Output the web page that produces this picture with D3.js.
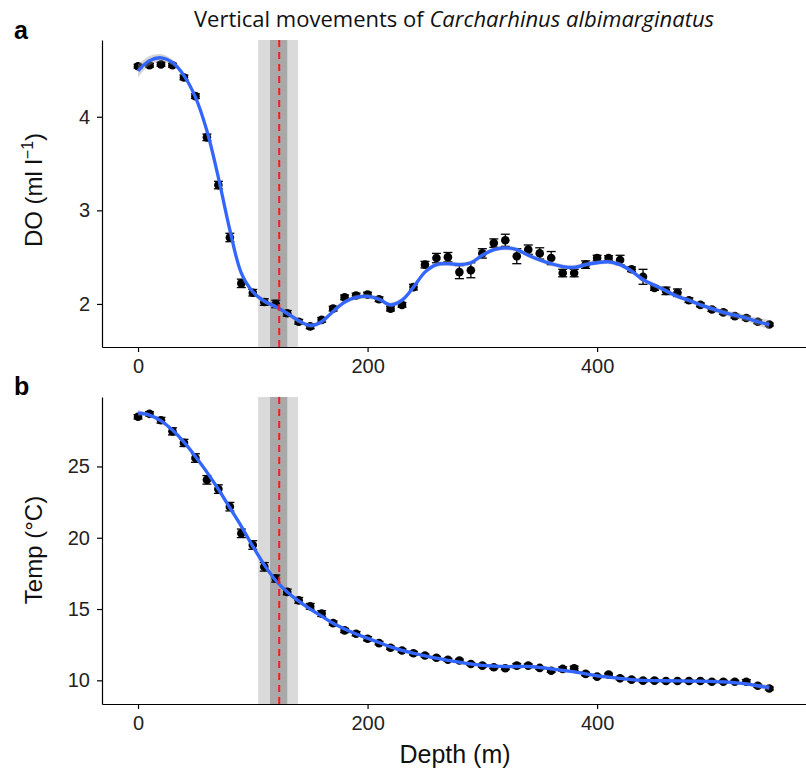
<!DOCTYPE html>
<html>
<head>
<meta charset="utf-8">
<script src="https://cdn.jsdelivr.net/npm/d3@7"></script>
<style>
  body { margin: 0; background: #fff; }
  svg { display: block; }
  .tick text { font-family: "Liberation Sans", Arial, sans-serif; font-size: 20px; fill: #222; }
  .domain, .tick line { stroke: #000; stroke-width: 1.2px; }
</style>
</head>
<body>
<svg width="806" height="775"></svg>
<script>
// depth bins (m)
var depths = [0, 10, 20, 30, 40, 50, 60, 70, 80, 90, 100, 110, 120, 130, 140, 150, 160, 170, 180, 190,
  200, 210, 220, 230, 240, 250, 260, 270, 280, 290, 300, 310, 320, 330, 340, 350, 360, 370, 380, 390,
  400, 410, 420, 430, 440, 450, 460, 470, 480, 490, 500, 510, 520, 530, 540, 550];

// dissolved oxygen, mean and SE per bin
var doMean = [4.54, 4.55, 4.56, 4.55, 4.42, 4.22, 3.78, 3.27, 2.71, 2.22, 2.12, 2.02, 2.00, 1.90, 1.81, 1.76, 1.83, 1.95, 2.07, 2.09,
  2.10, 2.05, 1.95, 1.99, 2.18, 2.42, 2.49, 2.50, 2.34, 2.36, 2.54, 2.65, 2.68, 2.51, 2.58, 2.54, 2.49, 2.33, 2.33, 2.42,
  2.49, 2.49, 2.47, 2.37, 2.29, 2.17, 2.14, 2.12, 2.04, 1.99, 1.94, 1.91, 1.87, 1.85, 1.81, 1.78];
var doSE = [0.02, 0.02, 0.02, 0.02, 0.025, 0.025, 0.035, 0.04, 0.045, 0.045, 0.035, 0.035, 0.04, 0.03, 0.025, 0.025, 0.025, 0.025, 0.025, 0.025,
  0.025, 0.025, 0.025, 0.025, 0.03, 0.035, 0.05, 0.05, 0.07, 0.08, 0.05, 0.045, 0.065, 0.08, 0.05, 0.06, 0.07, 0.04, 0.04, 0.04,
  0.03, 0.025, 0.05, 0.025, 0.08, 0.025, 0.04, 0.04, 0.025, 0.02, 0.02, 0.02, 0.02, 0.02, 0.02, 0.015];
// smoothed fit, with its ribbon half-width
var doFit = [4.49, 4.60, 4.63, 4.58, 4.44, 4.21, 3.85, 3.35, 2.79, 2.33, 2.13, 2.03, 1.97, 1.90, 1.82, 1.77, 1.81, 1.92, 2.02, 2.07,
  2.08, 2.05, 1.99, 2.04, 2.18, 2.34, 2.42, 2.43, 2.42, 2.44, 2.52, 2.58, 2.60, 2.58, 2.52, 2.47, 2.43, 2.40, 2.39, 2.42,
  2.44, 2.45, 2.42, 2.35, 2.26, 2.20, 2.14, 2.08, 2.04, 1.99, 1.95, 1.91, 1.88, 1.85, 1.81, 1.78];
var doFitSE = [0.07, 0.05, 0.04, 0.03, 0.025, 0.025, 0.025, 0.025, 0.025, 0.025, 0.025, 0.025, 0.025, 0.025, 0.025, 0.025, 0.025, 0.025, 0.025, 0.025,
  0.025, 0.025, 0.025, 0.025, 0.025, 0.025, 0.025, 0.025, 0.025, 0.025, 0.025, 0.025, 0.025, 0.025, 0.025, 0.025, 0.025, 0.025, 0.025, 0.025,
  0.025, 0.025, 0.025, 0.025, 0.025, 0.025, 0.025, 0.025, 0.025, 0.025, 0.025, 0.03, 0.03, 0.035, 0.04, 0.05];

// temperature, mean and SE per bin
var tempMean = [28.48, 28.69, 28.24, 27.46, 26.65, 25.59, 24.06, 23.41, 22.18, 20.31, 19.49, 17.96, 17.14, 16.20, 15.61, 15.19, 14.68, 14.01, 13.50, 13.27,
  12.92, 12.61, 12.28, 12.09, 11.90, 11.74, 11.58, 11.44, 11.39, 11.15, 11.03, 10.92, 10.85, 11.03, 11.03, 10.87, 10.67, 10.80, 10.84, 10.45,
  10.26, 10.40, 10.14, 10.05, 9.98, 9.98, 9.95, 9.95, 9.95, 9.95, 9.90, 9.90, 9.90, 9.90, 9.62, 9.43];
var tempSE = [0.15, 0.15, 0.2, 0.25, 0.25, 0.3, 0.3, 0.3, 0.3, 0.3, 0.3, 0.3, 0.25, 0.2, 0.2, 0.2, 0.2, 0.15, 0.15, 0.15,
  0.15, 0.12, 0.12, 0.12, 0.12, 0.1, 0.1, 0.1, 0.1, 0.1, 0.1, 0.1, 0.1, 0.15, 0.12, 0.1, 0.1, 0.15, 0.15, 0.12,
  0.1, 0.1, 0.1, 0.1, 0.1, 0.1, 0.1, 0.1, 0.1, 0.1, 0.1, 0.1, 0.1, 0.15, 0.1, 0.1];
var tempFit = [28.75, 28.60, 28.20, 27.55, 26.70, 25.70, 24.60, 23.40, 22.10, 20.80, 19.40, 18.10, 17.00, 16.20, 15.55, 15.00, 14.50, 14.00, 13.60, 13.25,
  12.95, 12.65, 12.35, 12.10, 11.90, 11.72, 11.55, 11.40, 11.27, 11.15, 11.05, 11.00, 10.97, 10.97, 10.97, 10.90, 10.80, 10.70, 10.60, 10.45,
  10.32, 10.22, 10.13, 10.05, 10.00, 9.98, 9.97, 9.96, 9.95, 9.94, 9.92, 9.89, 9.83, 9.75, 9.62, 9.48];
var tempFitSE = [0.2, 0.12, 0.1, 0.1, 0.1, 0.1, 0.1, 0.1, 0.1, 0.1, 0.1, 0.1, 0.1, 0.1, 0.1, 0.1, 0.1, 0.1, 0.1, 0.1,
  0.1, 0.1, 0.1, 0.1, 0.1, 0.1, 0.1, 0.1, 0.1, 0.1, 0.1, 0.1, 0.1, 0.1, 0.1, 0.1, 0.1, 0.1, 0.1, 0.1,
  0.1, 0.1, 0.1, 0.1, 0.1, 0.1, 0.1, 0.1, 0.1, 0.1, 0.1, 0.1, 0.1, 0.12, 0.15, 0.2];

// preferred depth: mean, inner and outer ranges
var prefDepth = 123;
var innerBand = [115, 130];
var outerBand = [104.6, 139.4];
var xTicks = [0, 200, 400];

var svg = d3.select("svg");

var x = d3.scaleLinear().domain([-31.4, 582]).range([102, 806]);

function panel(opts) {
  var y = d3.scaleLinear().domain(opts.domain).range([opts.bottom, opts.top]);
  var g = svg.append("g");
  var rows = depths.map(function(d, i) {
    return {depth: d, mean: opts.mean[i], se: opts.se[i], fit: opts.fit[i], fitSe: opts.fitSe[i]};
  });

  g.append("rect")
      .attr("x", x(outerBand[0])).attr("y", opts.top)
      .attr("width", x(outerBand[1]) - x(outerBand[0]))
      .attr("height", opts.bottom - opts.top)
      .attr("fill", "#dadada");
  g.append("rect")
      .attr("x", x(innerBand[0])).attr("y", opts.top)
      .attr("width", x(innerBand[1]) - x(innerBand[0]))
      .attr("height", opts.bottom - opts.top)
      .attr("fill", "#a9a9a9");

  // error bars
  var eb = g.selectAll(".eb").data(rows).enter().append("g").attr("class", "eb")
      .attr("stroke", "#000").attr("stroke-width", 1.3);
  eb.append("line")
      .attr("x1", function(d) { return x(d.depth); })
      .attr("x2", function(d) { return x(d.depth); })
      .attr("y1", function(d) { return y(d.mean - d.se); })
      .attr("y2", function(d) { return y(d.mean + d.se); });
  [-1, 1].forEach(function(s) {
    eb.append("line")
        .attr("x1", function(d) { return x(d.depth) - 4.5; })
        .attr("x2", function(d) { return x(d.depth) + 4.5; })
        .attr("y1", function(d) { return y(d.mean + s * d.se); })
        .attr("y2", function(d) { return y(d.mean + s * d.se); });
  });

  g.selectAll(".pt").data(rows).enter().append("circle")
      .attr("cx", function(d) { return x(d.depth); })
      .attr("cy", function(d) { return y(d.mean); })
      .attr("r", 4.3)
      .attr("fill", "#000");

  var area = d3.area()
      .x(function(d) { return x(d.depth); })
      .y0(function(d) { return y(d.fit - d.fitSe); })
      .y1(function(d) { return y(d.fit + d.fitSe); })
      .curve(d3.curveCatmullRom);
  g.append("path").datum(rows)
      .attr("fill", "#999").attr("fill-opacity", 0.4)
      .attr("d", area);

  var line = d3.line()
      .x(function(d) { return x(d.depth); })
      .y(function(d) { return y(d.fit); })
      .curve(d3.curveCatmullRom);
  g.append("path").datum(rows)
      .attr("fill", "none")
      .attr("stroke", "#3366ff")
      .attr("stroke-width", 3.3)
      .attr("stroke-linejoin", "round")
      .attr("d", line);

  g.append("line")
      .attr("x1", x(prefDepth)).attr("x2", x(prefDepth))
      .attr("y1", opts.top).attr("y2", opts.bottom)
      .attr("stroke", "#ff1a1a").attr("stroke-width", 2)
      .attr("stroke-dasharray", "7,5");

  g.append("g")
      .attr("transform", "translate(0," + opts.bottom + ")")
      .call(d3.axisBottom(x).tickValues(xTicks).tickSize(5).tickPadding(7).tickSizeOuter(0));

  g.append("g")
      .attr("transform", "translate(102,0)")
      .call(d3.axisLeft(y).tickValues(opts.ticks).tickFormat(d3.format("d"))
        .tickSize(5).tickPadding(7).tickSizeOuter(0));

  var lab = g.append("text")
      .attr("transform", "translate(42," + opts.labelY + ") rotate(-90)")
      .attr("text-anchor", "middle")
      .attr("font-family", "Liberation Sans, Arial, sans-serif")
      .attr("font-size", 24)
      .attr("fill", "#111");
  opts.label(lab);

  svg.append("text")
      .attr("x", 14).attr("y", opts.letterY)
      .attr("font-family", "Liberation Sans, Arial, sans-serif")
      .attr("font-weight", "bold")
      .attr("font-size", 25)
      .text(opts.letter);
}

panel({
  mean: doMean, se: doSE, fit: doFit, fitSe: doFitSE,
  domain: [1.54, 4.82], top: 40, bottom: 347, ticks: [2, 3, 4],
  labelY: 190, letter: "a", letterY: 39,
  label: function(t) {
    t.append("tspan").text("DO (ml l");
    t.append("tspan").attr("dy", -9).attr("font-size", 16).text("\u22121");
    t.append("tspan").attr("dy", 9).text(")");
  }
});

panel({
  mean: tempMean, se: tempSE, fit: tempFit, fitSe: tempFitSE,
  domain: [8.34, 29.87], top: 397, bottom: 704, ticks: [10, 15, 20, 25],
  labelY: 550, letter: "b", letterY: 395,
  label: function(t) { t.text("Temp (\u00B0C)"); }
});

svg.append("text")
    .attr("x", 455).attr("y", 763)
    .attr("text-anchor", "middle")
    .attr("font-family", "Liberation Sans, Arial, sans-serif")
    .attr("font-size", 25)
    .attr("fill", "#111")
    .text("Depth (m)");

var title = svg.append("text")
    .attr("x", 454).attr("y", 27)
    .attr("text-anchor", "middle")
    .attr("font-family", "'Open Sans', Lato, sans-serif")
    .attr("font-size", 22)
    .attr("fill", "#111");
title.append("tspan").text("Vertical movements of ");
title.append("tspan").attr("font-style", "italic").text("Carcharhinus albimarginatus");
</script>
</body>
</html>
